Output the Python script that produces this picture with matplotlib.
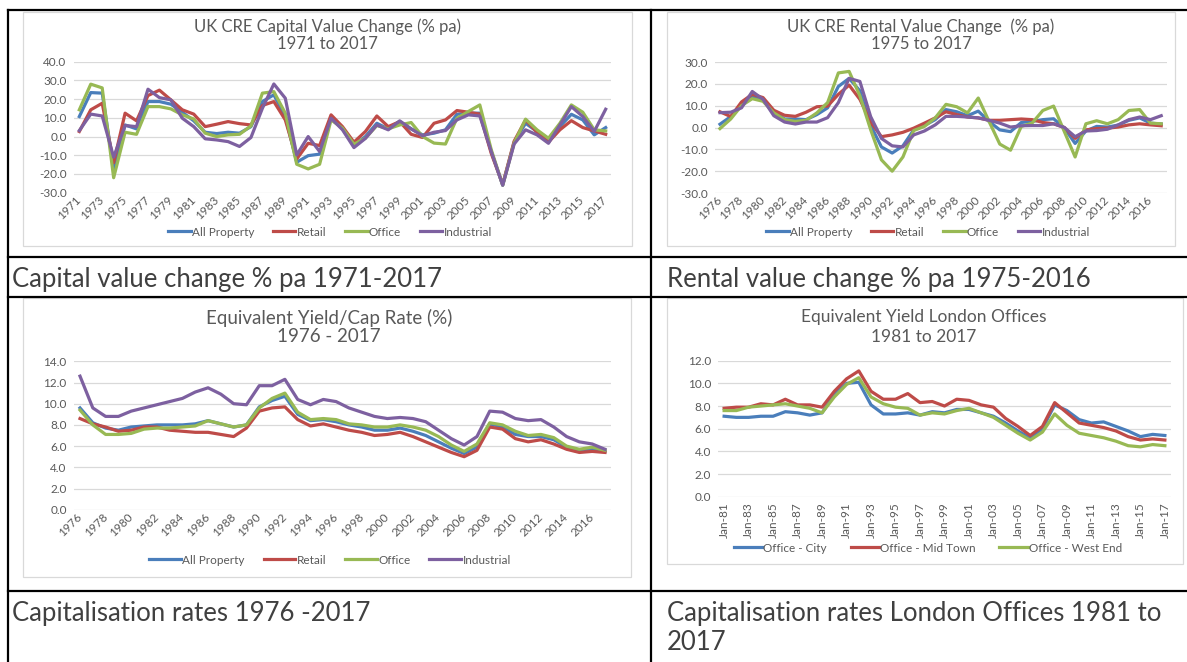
import matplotlib.pyplot as plt
from matplotlib.lines import Line2D
from matplotlib.patches import Rectangle

plt.rcParams['font.family'] = ['Lato', 'DejaVu Sans']
plt.rcParams['axes.unicode_minus'] = False

# ---- data ----
cv_years = list(range(1971, 2018))
cv_all = [10.7, 23.5, 23.2, -17, 6.2, 4.1, 18.7, 18.7, 17.3, 13, 8.4, 2.3, 1.6, 2.3, 1.8, 5.3,
          18.7, 22.3, 10.7, -13.7, -10.2, -9.4, 10.7, 4.1, -4.8, 0, 7.1, 4.1, 8, 4.1, 0.9, 1.8,
          3.6, 11.9, 12.5, 12.5, -8, -26, -3, 7.1, 2.7, -3, 5.3, 11.9, 8.9, 0.9, 4.8]
cv_retail = [2.7, 14.3, 17.8, -14, 12.5, 8.4, 21.9, 24.8, 19.6, 14.3, 12, 5.3, 6.6, 8, 6.9, 6.2,
             16.6, 18.7, 8.9, -12, -3.6, -4.8, 11.6, 5.3, -3, 2.7, 11, 5.3, 8, 1.2, -0.5, 7.1,
             8.9, 13.9, 13, 12, -9, -25.5, -2.5, 8.9, 2.3, -3, 3.6, 8.5, 4.8, 3, 1.2]
cv_office = [14.3, 28, 26, -22, 2.3, 1.2, 16, 16, 14.8, 11.6, 9.4, 1.8, 0, 0.9, 1.2, 5.7,
             23.2, 24, 12.5, -14.8, -17.3, -14.8, 8.9, 4.5, -4.1, -0.9, 5.9, 4.1, 6.2, 7.5, 0, -3.5,
             -4, 9.8, 13.4, 16.9, -7, -26, -3.5, 9.3, 3.6, -0.9, 7.1, 16.9, 13, 3.6, 3]
cv_ind = [3.2, 12, 11, -11, 5.9, 5.3, 25.3, 20.8, 19.6, 9.8, 5.3, -1.2, -1.8, -2.7, -5.3, -0.5,
          15.1, 28.1, 20.5, -9.8, 0, -8, 9.8, 3.6, -5.9, -1, 6.2, 3.6, 8.4, 4.1, 0.4, 2.3,
          3.2, 8.9, 11.6, 11, -8, -26, -4, 3.6, 0.9, -3.6, 6.2, 16, 10.7, 2.7, 14.6]

rv_years = list(range(1976, 2018))
rv_all = [1.5, 5, 10.6, 14.2, 12.9, 7.5, 3.9, 3.9, 3.6, 5.9, 9, 18.8, 22.5, 16.8, 1, -8.9,
          -11.7, -8.4, -1.1, 0.9, 3.6, 8.2, 7.2, 5.4, 7.5, 2.8, -1.1, -1.9, 2.3, 2.8, 3.6, 4,
          -0.3, -7.3, -1.6, 0.5, 0.2, 1.1, 3.3, 4.4, 2, 1.6]
rv_retail = [7.2, 5, 11.7, 15.2, 13.7, 7.9, 5.6, 5.1, 7, 9.5, 9.8, 15.2, 19.4, 12.9, 2.5, -4.2,
             -3.4, -2.2, -0.3, 2, 4.4, 7.2, 5.9, 4.8, 4.4, 3.3, 3.3, 3.6, 3.9, 3.6, 2.3, 1.7,
             0, -5, -1.1, -0.5, -0.3, 0.2, 1.2, 1.7, 1.2, 0.8]
rv_office = [-0.5, 3.9, 10, 13.2, 12, 6.7, 3.6, 2.8, 3.3, 6.7, 11.4, 25, 25.7, 14.5, -1, -14.8,
             -20, -13.5, -1.4, 0.5, 4.4, 10.6, 9.5, 6.7, 13.5, 2.8, -7.6, -10.4, 0.5, 2, 7.8, 9.8,
             -1.9, -13.5, 1.7, 3.1, 1.7, 3.6, 7.8, 8.2, 2, 1.7]
rv_ind = [6.8, 7, 9, 16.5, 12.9, 5.4, 2.5, 1.6, 2.5, 2.5, 4.5, 11.4, 22.5, 21.1, 5, -5,
          -8.4, -8.9, -3.4, -1.6, 1.2, 5.1, 5.1, 4.8, 4.4, 3.3, 2, 0.2, 0.8, 0.9, 0.9, 1.7,
          0, -4.2, -1.6, -1.4, -0.8, 1.2, 3.6, 4.8, 3.6, 5.4]

ey_years = list(range(1976, 2018))
ey_all = [9.6, 8.2, 7.7, 7.5, 7.8, 7.9, 8, 8, 8, 8.1, 8.4, 8.1, 7.8, 8, 9.7, 10.3, 10.7, 9,
          8.4, 8.5, 8.3, 8, 7.8, 7.5, 7.5, 7.7, 7.4, 7, 6.4, 5.8, 5.3, 5.9, 8.1, 7.8, 7.1, 6.9,
          6.9, 6.6, 5.9, 5.6, 5.7, 5.5]
ey_retail = [8.6, 8.1, 7.8, 7.4, 7.5, 7.8, 7.8, 7.5, 7.4, 7.3, 7.3, 7.1, 6.9, 7.7, 9.3, 9.6,
             9.7, 8.5, 7.9, 8.1, 7.8, 7.5, 7.3, 7, 7.1, 7.3, 6.9, 6.4, 5.9, 5.4, 5, 5.6, 7.8, 7.6,
             6.7, 6.4, 6.6, 6.2, 5.7, 5.4, 5.5, 5.4]
ey_office = [9.4, 8, 7.1, 7.1, 7.2, 7.6, 7.7, 7.7, 7.8, 7.9, 8.4, 8.1, 7.8, 8, 9.6, 10.5, 11,
             9.2, 8.5, 8.6, 8.5, 8.1, 8, 7.8, 7.8, 8, 7.8, 7.5, 6.9, 6.1, 5.5, 6.2, 8.2, 8, 7.4,
             7, 7.1, 6.8, 6, 5.7, 5.9, 5.6]
ey_ind = [12.6, 9.6, 8.8, 8.8, 9.3, 9.6, 9.9, 10.2, 10.5, 11.1, 11.5, 10.9, 10, 9.9, 11.7,
          11.7, 12.3, 10.4, 9.9, 10.4, 10.2, 9.6, 9.2, 8.8, 8.6, 8.7, 8.6, 8.3, 7.5, 6.7, 6.1,
          6.9, 9.3, 9.2, 8.6, 8.4, 8.5, 7.8, 6.9, 6.4, 6.2, 5.7]

ldn_labels = ['Jan-%02d' % (y % 100) for y in range(1981, 2018)]
ldn_city = [7.1, 7, 7, 7.1, 7.1, 7.5, 7.4, 7.2, 7.4, 9, 10, 10.1, 8.1, 7.3, 7.3, 7.4, 7.2,
            7.5, 7.4, 7.7, 7.7, 7.4, 7.1, 6.5, 5.8, 5.2, 6, 8.1, 7.6, 6.8, 6.5, 6.6, 6.2, 5.8,
            5.3, 5.5, 5.4]
ldn_midtown = [7.8, 7.9, 7.9, 8.2, 8.1, 8.6, 8.1, 8.1, 7.9, 9.3, 10.4, 11.1, 9.3, 8.6, 8.6,
               9.1, 8.3, 8.4, 8, 8.6, 8.5, 8.1, 7.9, 6.9, 6.2, 5.4, 6.2, 8.3, 7.4, 6.5, 6.3,
               6.1, 5.8, 5.3, 5, 5.1, 5]
ldn_westend = [7.6, 7.6, 7.9, 8, 8.1, 8.2, 8, 7.8, 7.4, 8.8, 9.9, 10.5, 8.8, 8.2, 7.9, 7.8,
               7.2, 7.4, 7.3, 7.6, 7.8, 7.4, 7, 6.3, 5.6, 5, 5.7, 7.3, 6.3, 5.6, 5.4, 5.2, 4.9,
               4.5, 4.4, 4.6, 4.5]

sector_names = ['All Property', 'Retail', 'Office', 'Industrial']
ldn_names = ['Office - City', 'Office - Mid Town', 'Office - West End']
colors = ['#4a7ebb', '#be4b48', '#98b954', '#7d60a0']

# ---- layout helpers (pixel coords, origin top-left) ----
W, H = 1187, 662
fig = plt.figure(figsize=(W / 100, H / 100), dpi=100)
fig.patch.set_facecolor('white')


def fx(x):
    return x / W


def fy(y):
    return 1 - y / H


def hline(y, x0=8, x1=W):
    fig.add_artist(Line2D([fx(x0), fx(x1)], [fy(y), fy(y)], color='black', lw=1.6))


def vline(x, y0=10, y1=H):
    fig.add_artist(Line2D([fx(x), fx(x)], [fy(y0), fy(y1)], color='black', lw=1.6))


def frame(x0, y0, x1, y1):
    fig.add_artist(Rectangle((fx(x0), fy(y1)), (x1 - x0) / W, (y1 - y0) / H,
                             fill=False, ec='#d9d9d9', lw=0.9))


def chart(box, labels, series, names, ylim, ystep, rot, titles, title_cx, title_ys,
          title_size, leg_cx, leg_y, handlelen=1.9, colspace=1.6):
    x0, y0, x1, y1 = box
    ax = fig.add_axes([fx(x0), fy(y1), (x1 - x0) / W, (y1 - y0) / H])
    n = len(labels)
    for vals, name, c in zip(series, names, colors):
        ax.plot(range(n), vals, color=c, lw=2.3, label=name, solid_joinstyle='round')
    ax.set_xlim(-0.5, n - 0.5)
    ax.set_ylim(*ylim)
    yt = [ylim[0] + ystep * k for k in range(int(round((ylim[1] - ylim[0]) / ystep)) + 1)]
    ax.set_yticks(yt)
    ax.set_yticklabels(['%.1f' % v for v in yt])
    ax.set_xticks(range(0, n, 2))
    ax.set_xticklabels([str(labels[k]) for k in range(0, n, 2)], rotation=rot,
                       ha='right', va='center', rotation_mode='anchor')
    ax.tick_params(length=0, labelsize=8.5, labelcolor='#595959')
    ax.tick_params(axis='x', pad=4)
    ax.tick_params(axis='y', pad=5)
    ax.grid(axis='y', color='#d9d9d9', lw=0.9)
    ax.set_axisbelow(True)
    for s in ax.spines.values():
        s.set_visible(False)
    for t, ty in zip(titles, title_ys):
        fig.text(fx(title_cx), fy(ty), t, ha='center', va='center',
                 fontsize=title_size, color='#595959')
    ax.legend(loc='center', bbox_to_anchor=(fx(leg_cx), fy(leg_y)),
              bbox_transform=fig.transFigure, ncol=len(names), frameon=False,
              fontsize=8.5, labelcolor='#595959', handlelength=handlelen,
              handletextpad=0.1, columnspacing=colspace)
    return ax


# table grid
hline(10)
hline(257)
hline(297)
hline(591)
vline(8)
vline(651)

# chart frames
frame(23, 12, 632, 246)
frame(667, 12, 1175, 246)
frame(23, 298, 631, 577)
frame(667, 298, 1183, 564)

chart((73.6, 61.7, 611.4, 192.7), cv_years, [cv_all, cv_retail, cv_office, cv_ind],
      sector_names, (-30, 40), 10, 45,
      ['UK CRE Capital Value Change (% pa)', '1971 to 2017'], 327, [27, 44], 12,
      330, 232)

chart((714.6, 62, 1166.6, 193), rv_years, [rv_all, rv_retail, rv_office, rv_ind],
      sector_names, (-30, 30), 10, 45,
      ['UK CRE Rental Value Change  (% pa)', '1975 to 2017'], 921, [27, 44], 12,
      928, 232)

chart((73.6, 361.3, 611.4, 509.7), ey_years, [ey_all, ey_retail, ey_office, ey_ind],
      sector_names, (0, 14), 2, 45,
      ['Equivalent Yield/Cap Rate (%)', '1976 - 2017'], 329, [318, 337], 13.5,
      330, 560, handlelen=2.7)

chart((718, 360.7, 1171, 496.7), ldn_labels, [ldn_city, ldn_midtown, ldn_westend],
      ldn_names, (0, 12), 2, 90,
      ['Equivalent Yield London Offices', '1981 to 2017'], 924, [317, 337], 12.5,
      928, 548, handlelen=2.4, colspace=2.0)

# captions under each chart
cap_kw = dict(fontsize=18.5, color='#404040', va='center', ha='left')
fig.text(fx(12), fy(280), 'Capital value change % pa 1971-2017', **cap_kw)
fig.text(fx(667), fy(280), 'Rental value change % pa 1975-2016', **cap_kw)
fig.text(fx(12), fy(614), 'Capitalisation rates 1976 -2017', **cap_kw)
fig.text(fx(667), fy(614), 'Capitalisation rates London Offices 1981 to', **cap_kw)
fig.text(fx(667), fy(642), '2017', **cap_kw)

fig.savefig('out.png', dpi=100)
